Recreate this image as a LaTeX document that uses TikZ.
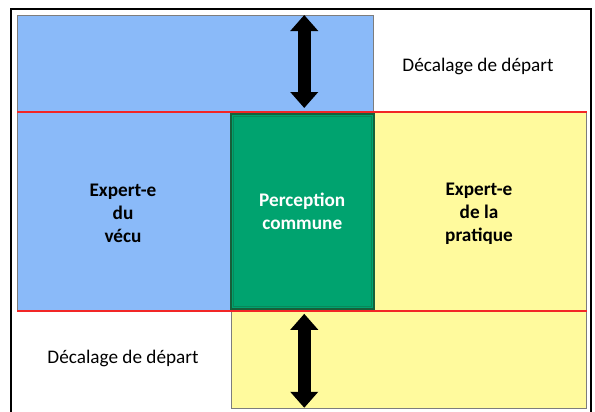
\documentclass[tikz,border=0pt]{standalone}
\usepackage{fontspec}
\setmainfont{Carlito}
\usetikzlibrary{positioning,arrows.meta}

\definecolor{vecuBlue}{RGB}{138,186,249}
\definecolor{pratYellow}{RGB}{255,250,157}
\definecolor{comGreen}{RGB}{0,163,111}
\definecolor{comDark}{RGB}{22,96,58}
\definecolor{lineRed}{RGB}{242,38,38}
\definecolor{zoneGray}{RGB}{125,125,125}

\begin{document}
\begin{tikzpicture}[
x=1bp, y=-1bp,
zone/.style={draw=zoneGray, line width=0.8bp, anchor=north west, inner sep=0pt},
expert/.style={font=\bfseries\fontsize{19.3}{23}\selectfont, align=center},
decal/.style={font=\fontsize{19.3}{23}\selectfont},
redline/.style={draw=lineRed, line width=2.5bp},
shiftarrow/.style={line width=13bp, {Triangle[width=27bp,length=16bp]}-{Triangle[width=27bp,length=16bp]}}
]
\useasboundingbox (0,0) rectangle (595,411);
\draw[line width=2.2bp] (11,415) -- (11,9) -- (591,9) -- (591,415);

\node (vecu) [zone, fill=vecuBlue, minimum width=356bp, minimum height=295bp] at (17,15) {};
\node (pratique) [zone, fill=pratYellow, minimum width=355bp, minimum height=296bp] at (231,112) {};
\node (commune) [zone, fill=comGreen, draw=comDark, line width=1.5bp, minimum width=143bp, minimum height=195bp,
  expert, text=white] at (230,113) {Perception\\commune};
\draw[comDark, opacity=0.4] ([xshift=3bp,yshift=-3bp]commune.north west) rectangle ([xshift=-3bp,yshift=3bp]commune.south east);

%
\draw[redline] (vecu.west |- pratique.north) -- (pratique.north east);
\draw[redline] (vecu.south west) -- (vecu.south -| pratique.east);

\node (vecutxt) [expert] at (123,213) {Expert-e\\du\\vécu};
\node (pratxt) [expert] at (479,214) {Expert-e\\de la\\pratique};
\node (decalA) [decal] at (478,66) {Décalage de départ};
\node (decalB) [decal] at (123,358) {Décalage de départ};

\coordinate (up1) at ([xshift=2bp]vecu.north -| commune.center);
\coordinate (up2) at ([yshift=4bp]pratique.north -| up1);
\coordinate (dn1) at ([yshift=-3bp]vecu.south -| up1);
\coordinate (dn2) at ([yshift=1bp]pratique.south -| up1);

\draw[shiftarrow] (up1) -- (up2);
\draw[shiftarrow] (dn1) -- (dn2);

\end{tikzpicture}
\end{document}
